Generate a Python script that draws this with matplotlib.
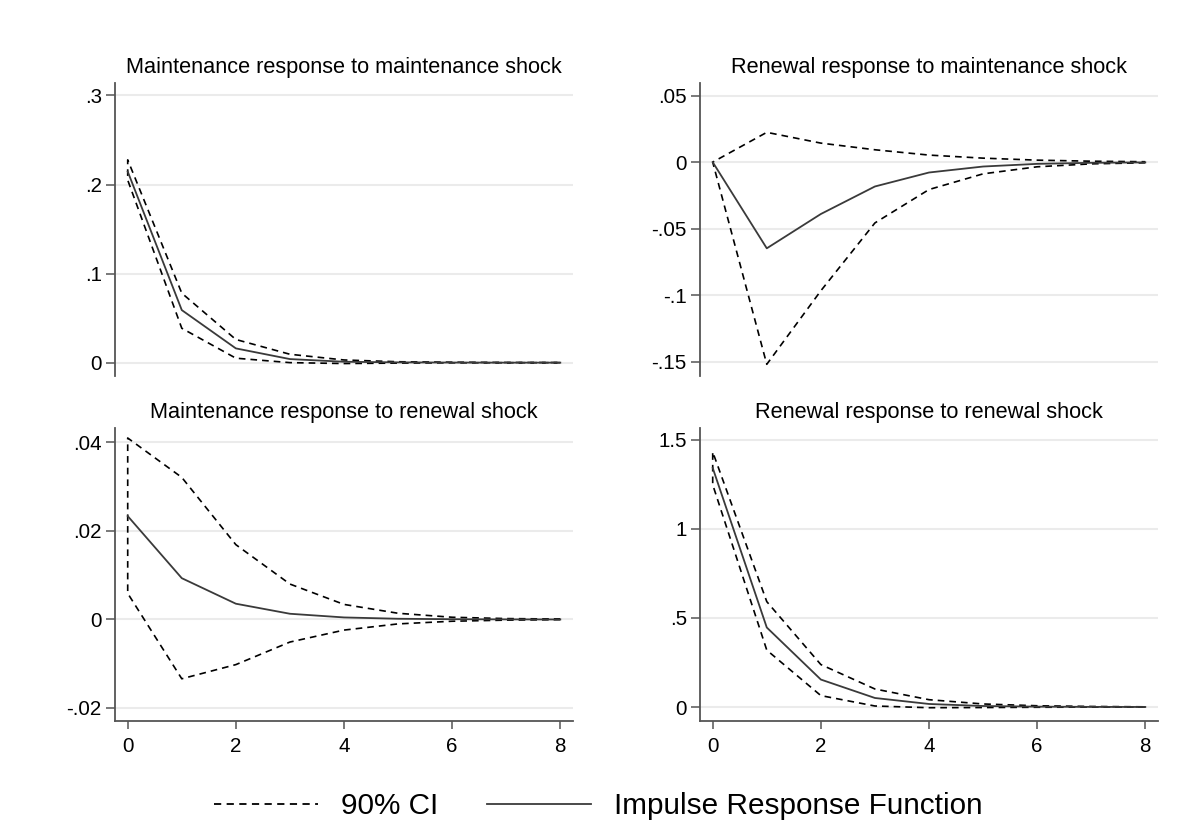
import matplotlib.pyplot as plt
from matplotlib.lines import Line2D

plt.rcParams['font.family'] = ['Liberation Sans', 'DejaVu Sans']

steps = [0, 1, 2, 3, 4, 5, 6, 7, 8]

# maintenance response to maintenance shock
mm_irf = [0.2146, 0.059, 0.016, 0.004, 0.001, 0.0003, 0.0001, 0.0, 0.0]
mm_hi = [0.2277, 0.078, 0.026, 0.0094, 0.003, 0.001, 0.0005, 0.0002, 0.0001]
mm_lo = [0.205, 0.0386, 0.005, 0.0, -0.001, -0.0005, -0.0002, -0.0001, 0.0]

# renewal response to maintenance shock
rm_irf = [0.0, -0.0648, -0.039, -0.0183, -0.0078, -0.0033, -0.0013, -0.0005, -0.0002]
rm_hi = [0.0, 0.0224, 0.0143, 0.0093, 0.0053, 0.003, 0.0015, 0.0007, 0.0003]
rm_lo = [0.0, -0.152, -0.0967, -0.0457, -0.0206, -0.0088, -0.0035, -0.0013, -0.0005]

# maintenance response to renewal shock
mr_irf = [0.02336, 0.00933, 0.00356, 0.00129, 0.00046, 0.00016, 0.00006, 0.00002, 0.0]
mr_hi = [0.041, 0.0321, 0.0169, 0.008, 0.0034, 0.0014, 0.0005, 0.0002, 0.0001]
mr_lo = [0.0059, -0.0134, -0.0102, -0.0051, -0.0024, -0.001, -0.0004, -0.00015, -0.00005]

# renewal response to renewal shock
rr_irf = [1.341, 0.446, 0.154, 0.0506, 0.017, 0.0056, 0.002, 0.0006, 0.0002]
rr_hi = [1.431, 0.591, 0.238, 0.101, 0.041, 0.017, 0.007, 0.003, 0.001]
rr_lo = [1.247, 0.319, 0.064, 0.0056, -0.004, -0.003, -0.0015, -0.0006, -0.0002]

titles = ["Maintenance response to maintenance shock",
          "Renewal response to maintenance shock",
          "Maintenance response to renewal shock",
          "Renewal response to renewal shock"]

yticks = [[0, 0.1, 0.2, 0.3],
          [-0.15, -0.1, -0.05, 0, 0.05],
          [-0.02, 0, 0.02, 0.04],
          [0, 0.5, 1, 1.5]]
ytick_labels = [["0", ".1", ".2", ".3"],
                ["-.15", "-.1", "-.05", "0", ".05"],
                ["-.02", "0", ".02", ".04"],
                ["0", ".5", "1", "1.5"]]
ylims = [(-0.015, 0.314), (-0.1608, 0.0595), (-0.02294, 0.04326), (-0.0785, 1.565)]
xticks = [0, 2, 4, 6, 8]

panels = [(mm_irf, mm_hi, mm_lo), (rm_irf, rm_hi, rm_lo),
          (mr_irf, mr_hi, mr_lo), (rr_irf, rr_hi, rr_lo)]

W, H = 1197, 825
fig = plt.figure(figsize=(W / 100, H / 100), dpi=100)

# axes boxes in pixels: left, top, right, bottom
boxes = [(115, 83, 573, 376), (700, 83, 1158, 376),
         (115, 428, 573, 721), (700, 428, 1158, 721)]

axcol = '#555555'
for i, (irf, hi, lo) in enumerate(panels):
    l, t, r, b = boxes[i]
    ax = fig.add_axes([l / W, 1 - b / H, (r - l) / W, (b - t) / H])
    # CI band drawn as one path (lower band backwards, then upper band)
    ax.plot(steps[::-1] + steps, lo[::-1] + hi, color='black', lw=1.2,
            ls='--', dashes=(4, 3))
    ax.plot(steps, irf, color='#3a3a3a', lw=1.3)
    ax.set_xlim(-0.235, 8.235)
    ax.set_ylim(*ylims[i])
    ax.set_yticks(yticks[i])
    ax.set_yticklabels(ytick_labels[i])
    ax.yaxis.grid(True, color='#ebebeb', lw=1.5)
    ax.set_axisbelow(True)
    for s in ['top', 'right']:
        ax.spines[s].set_visible(False)
    ax.spines['left'].set_color(axcol)
    ax.spines['left'].set_linewidth(1.3)
    ax.tick_params(axis='y', length=6.5, width=1.1, color=axcol,
                   labelsize=14.8, pad=3)
    if i < 2:
        ax.spines['bottom'].set_visible(False)
        ax.tick_params(axis='x', bottom=False, labelbottom=False)
    else:
        ax.spines['bottom'].set_color(axcol)
        ax.spines['bottom'].set_linewidth(1.3)
        ax.set_xticks(xticks)
        ax.tick_params(axis='x', length=5.5, width=1.1, color=axcol,
                       labelsize=14.8, pad=6)
    ax.set_title(titles[i], fontsize=15.7, pad=7)

handles = [Line2D([], [], color='black', lw=1.3, ls='--', dashes=(4, 3)),
           Line2D([], [], color='#3a3a3a', lw=1.3)]
fig.legend(handles, ["90% CI", "Impulse Response Function"],
           loc='center', bbox_to_anchor=(0.5, 1 - 806 / H), ncol=2,
           frameon=False, fontsize=21.4, handlelength=3.5, handletextpad=0.77,
           columnspacing=1.65)

fig.savefig("out.png", dpi=100)
